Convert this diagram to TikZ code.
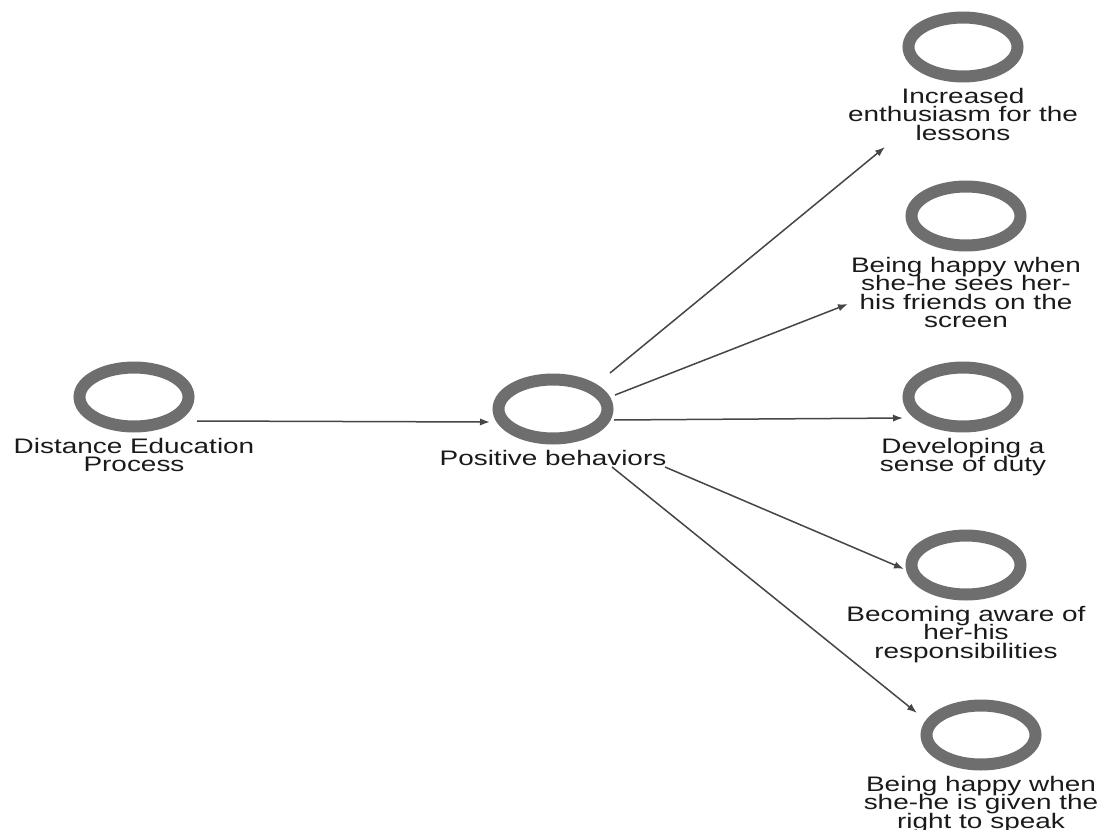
\documentclass[tikz,border=0pt]{standalone}
\usepackage{fontspec}
\usepackage{tikz}
\usetikzlibrary{arrows.meta,positioning,shapes.geometric}
\newfontfamily\netfont[FakeStretch=1.33]{Liberation Sans}
\newcommand\tightlines{\lineskiplimit=-10pt\relax}
\definecolor{ringC}{HTML}{6E6E6E}
\definecolor{arrC}{HTML}{454545}
\definecolor{txtC}{HTML}{1A1A1A}
\tikzset{
  ring/.style={ellipse, draw=ringC, line width=6pt, minimum width=54.5pt,
               minimum height=29.5pt, inner sep=0pt},
  lbl/.style={align=center, inner sep=0pt, text=txtC,
              font=\fontsize{10.5}{9.3}\netfont\tightlines},
  arr/.style={-{Latex[length=5pt,width=3.6pt]}, line width=0.75pt, draw=arrC},
}

\begin{document}
\begin{tikzpicture}[x=0.5pt, y=-0.5pt, node distance=2.5pt]
    \useasboundingbox (0,0) rectangle (1099,830);
    % codes
    \node[ring] (dep) at (134,397) {};
    \node[lbl, below=of dep] (dept) {Distance Education\\Process};
    \node[ring] (pos) at (553,409) {};
    \node[lbl, below=of pos] (post) {Positive behaviors};
    \node[ring] (inc) at (963,47) {};
    \node[lbl, below=of inc] (inct) {Increased\\enthusiasm for the\\lessons};
    \node[ring] (see) at (966,216) {};
    \node[lbl, below=of see] (seet) {Being happy when\\she-he sees her-\\his friends on the\\screen};
    \node[ring] (duty) at (963,397) {};
    \node[lbl, below=of duty] (dutyt) {Developing a\\sense of duty};
    \node[ring] (resp) at (966,565) {};
    \node[lbl, below=of resp] (respt) {Becoming aware of\\her-his\\responsibilities};
    \node[ring] (speak) at (981,735) {};
    \node[lbl, below=of speak] (speakt) {Being happy when\\she-he is given the\\right to speak};
    % links
    \draw[arr] ([shift={(63,24)}]dep.center) -- ([shift={(-63,13)}]pos.center);
    \draw[arr] ([shift={(57,-36)}]pos.center) -- ([shift={(-78,100)}]inc.center);
    \draw[arr] ([shift={(62,-14)}]pos.center) -- ([shift={(-118,88)}]see.center);
    \draw[arr] ([shift={(61,11)}]pos.center) -- ([shift={(-60,21)}]duty.center);
    \draw[arr] ([shift={(112,58)}]pos.center) -- ([shift={(-62,4)}]resp.center);
    \draw[arr] ([shift={(59,58)}]pos.center) -- ([shift={(-64,-22)}]speak.center);
  \end{tikzpicture}
\end{document}
